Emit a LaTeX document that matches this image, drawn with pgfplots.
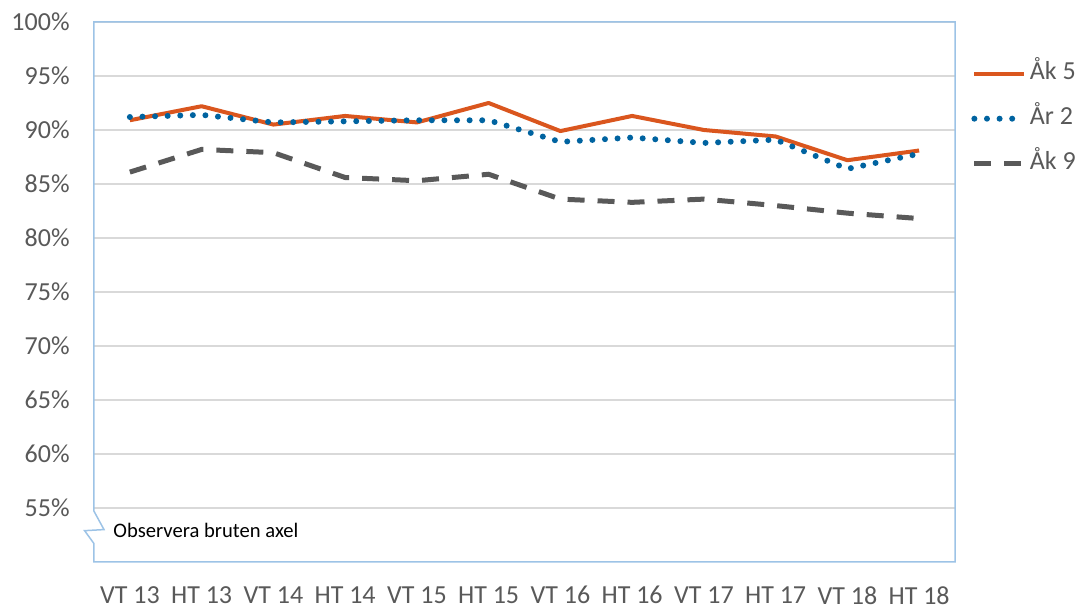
\documentclass[border=0pt]{standalone}
\usepackage{pgfplots}
\pgfplotsset{compat=1.18}
\usepackage{fontspec}
\setmainfont{Carlito}
\definecolor{cfem}{RGB}{218,86,30}
\definecolor{ctva}{RGB}{0,99,160}
\definecolor{cnio}{RGB}{89,89,89}
\definecolor{txt}{RGB}{89,89,89}
\definecolor{frame}{RGB}{157,195,230}
\definecolor{gridc}{RGB}{217,217,217}
\pgfplotstableread{
x a5 r2 a9
0 90.9 91.2 86.1
1 92.2 91.4 88.2
2 90.5 90.7 87.9
3 91.3 90.8 85.6
4 90.7 90.9 85.3
5 92.5 90.9 85.9
6 89.9 88.9 83.6
7 91.3 89.3 83.3
8 90.0 88.8 83.6
9 89.4 89.1 83.0
10 87.2 86.4 82.3
11 88.1 87.8 81.8
}\data
\begin{document}
\begin{tikzpicture}
\begin{axis}[
  scale only axis, width=430.5pt, height=270pt,
  xmin=-0.5, xmax=11.5, ymin=50, ymax=100,
  axis line style={draw=none},
  clip=false,
  xtick={0,...,11},
  xticklabels={VT 13, HT 13, VT 14, HT 14, VT 15, HT 15, VT 16, HT 16, VT 17, HT 17, VT 18, HT 18},
  ytick={55,60,...,100},
  ymajorgrids, grid style={gridc, line width=0.75pt},
  major tick length=0pt,
  tick style={draw=none},
  yticklabel={\pgfmathprintnumber{\tick}\%},
  /pgf/number format/assume math mode=true,
  ticklabel style={font=\fontsize{13}{15}\selectfont, text=txt},
  yticklabel style={anchor=east, inner sep=0pt, xshift=-12pt},
  xticklabel style={anchor=north, inner sep=0pt, yshift=-12pt},
  legend style={draw=none, fill=none, at={(1.0116,0.9387)}, anchor=north west,
    font=\fontsize{13}{15}\selectfont, text=txt, row sep=8pt,
    nodes={text height=9pt, text depth=3pt, inner sep=1.2pt}},
  legend cell align=left,
  legend image code/.code={\draw[#1] (0pt,0pt) -- (25pt,0pt);},
]
\addplot[cfem, line width=2pt, line join=round] table[x=x, y=a5] {\data};
\addlegendentry{Åk 5}
\addplot[ctva, line width=3pt, line cap=round, dash pattern=on 0pt off 6.3pt] table[x=x, y=r2] {\data};
\addlegendentry{År 2}
\addplot[cnio, line width=2.5pt, dash pattern=on 8.5pt off 6.5pt] table[x=x, y=a9] {\data};
\addlegendentry{Åk 9}
\draw[frame, line width=0.75pt, line join=miter]
  (axis cs:-0.5,51.7) -- (axis cs:-0.5,50) -- (axis cs:11.5,50) -- (axis cs:11.5,100)
  -- (axis cs:-0.5,100) -- (axis cs:-0.5,54.7) -- ([xshift=5pt]axis cs:-0.5,53.0)
  -- ([xshift=-4.7pt]axis cs:-0.5,52.9) -- (axis cs:-0.5,51.7);
\node[anchor=west, inner sep=0pt, font=\fontsize{10.3}{12}\selectfont, text=black]
  at ([xshift=9.5pt]axis cs:-0.5,52.9) {Observera bruten axel};
\coordinate (SW) at (rel axis cs:0,0);
\coordinate (NE) at (rel axis cs:1,1);
\end{axis}
\pgfresetboundingbox
\path[use as bounding box] ([xshift=-47pt,yshift=-22.5pt]SW) rectangle ([xshift=64pt,yshift=11pt]NE);
\end{tikzpicture}
\end{document}
